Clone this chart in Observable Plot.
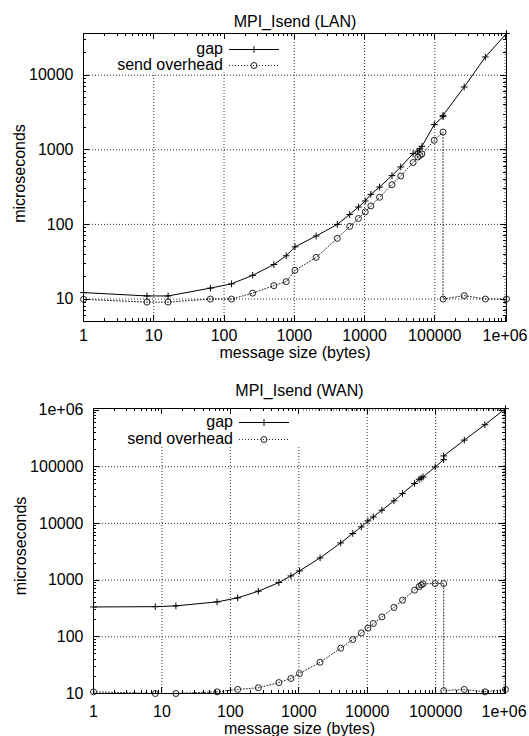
<!DOCTYPE html>
<html><head><meta charset="utf-8">
<script src="https://cdn.jsdelivr.net/npm/d3@7"></script>
<script src="https://cdn.jsdelivr.net/npm/@observablehq/plot@0.6"></script>
<style>
html,body{margin:0;padding:0;background:#fff;}
#chart{width:529px;}
#chart svg{display:block;}
</style></head><body><div id="chart"></div>
<script>
// message sizes (bytes), shared by both panels
const sizes = [1, 8, 16, 64, 128, 256, 512, 768, 1024, 2048, 4096, 6144, 8192, 10240, 12288, 16384, 24576, 32768, 49152, 57344, 61440, 65536, 98304, 131072, 131072, 262144, 524288, 1048576];
// LAN panel (microseconds)
const lanGap = [12.2, 11, 11, 14, 16, 20.8, 29, 38, 50, 70, 100, 136, 171, 206, 253, 317, 451, 589, 889, 960, 1030, 1110, 2180, 2780, 2900, 6950, 17540, 36200];
const lanOverhead = [9.9, 9.1, 9.1, 10, 10, 12, 15.1, 17.1, 24.3, 36.2, 65, 94, 120, 147, 177, 231, 341, 446, 675, 800, 840, 880, 1340, 1730, 10, 11.1, 10, 10];
// WAN panel (microseconds)
const wanGap = [336, 340, 351, 413, 486, 637, 906, 1185, 1452, 2466, 4530, 6640, 8680, 11070, 13020, 17100, 25000, 33700, 50600, 60000, 63000, 66000, 99000, 133000, 155000, 295000, 550000, 1060000];
const wanOverhead = [10.7, 10, 10, 10.7, 11.8, 12.6, 15.6, 18.4, 22.5, 35.6, 63, 89.6, 117, 142, 172, 224, 329, 442, 664, 770, 820, 860, 870, 870, 11.2, 11.8, 10.7, 11.8];

const xTicks = [1, 10, 100, 1000, 10000, 100000, 1000000];
const lanYTicks = [10, 100, 1000, 10000];
const wanYTicks = [10, 100, 1000, 10000, 100000, 1000000];
const titles = ["MPI_Isend (LAN)", "MPI_Isend (WAN)"];
const xLabel = "message size (bytes)";
const yLabel = "microseconds";
const seriesNames = ["gap", "send overhead"];

const fmt = d => d >= 1e6 ? "1e+06" : String(d);
const FONT = "'Liberation Sans', Arial, Helvetica, sans-serif";
const W = 529;
const PLUS_R = 2.3, CIRCLE_R = 3;

function panel(cfg) {
  const rows = sizes.map((s, i) => ({size: s, gap: cfg.gap[i], overhead: cfg.overhead[i]}));
  const plot = Plot.plot({
    width: W, height: cfg.height,
    marginTop: cfg.mt, marginBottom: cfg.mb, marginLeft: cfg.ml, marginRight: cfg.mr,
    style: {fontFamily: FONT, fontSize: "16px", background: "#fff", color: "#000", overflow: "visible"},
    x: {type: "log", domain: cfg.xDomain, ticks: xTicks, tickFormat: fmt, tickSize: 0, tickPadding: cfg.xPad, label: null},
    y: {type: "log", domain: cfg.yDomain, ticks: cfg.yTicks, tickFormat: fmt, tickSize: 0, tickPadding: 10, label: null},
    marks: [
      Plot.ruleX(xTicks.slice(1), {stroke: "#000", strokeOpacity: 0.8, strokeDasharray: "1,2", strokeWidth: 1}),
      Plot.ruleY(cfg.yTicks, {stroke: "#000", strokeOpacity: 0.8, strokeDasharray: "1,2", strokeWidth: 1}),
      Plot.line(rows, {x: "size", y: "overhead", stroke: "#000", strokeOpacity: 0.85, strokeDasharray: "1,2", strokeWidth: 1}),
      Plot.dot(rows, {x: "size", y: "overhead", symbol: "circle", r: CIRCLE_R, stroke: "#222", fill: "none", strokeWidth: 1}),
      Plot.line(rows, {x: "size", y: "gap", stroke: "#000", strokeWidth: 1}),
      Plot.dot(rows, {x: "size", y: "gap", symbol: "plus", r: PLUS_R, stroke: "#000", strokeWidth: 1}),
      Plot.frame({stroke: "#000"}),
      Plot.text([cfg.title], {frameAnchor: "top", lineAnchor: "middle", textAnchor: "middle", dy: cfg.titleDy, text: d => d}),
      Plot.text([xLabel], {frameAnchor: "bottom", lineAnchor: "middle", textAnchor: "middle", dy: cfg.xLabelDy, text: d => d}),
      Plot.text([yLabel], {frameAnchor: "left", lineAnchor: "middle", textAnchor: "middle", rotate: -90, dx: cfg.yLabelDx, dy: cfg.yLabelDy, text: d => d})
    ]
  });

  const svg = d3.select(plot.tagName.toLowerCase() === "svg" ? plot : plot.querySelector("svg"));
  const sx = plot.scale("x"), sy = plot.scale("y");
  const L = cfg.ml, T = cfg.mt, R = W - cfg.mr, B = cfg.height - cfg.mb;

  // legend (opaque key box hides the grid behind it)
  const g = svg.append("g").attr("font-family", FONT).attr("font-size", 16);
  g.append("rect").attr("x", L + 1).attr("y", T + 1)
    .attr("width", 207).attr("height", cfg.legRows[1] + 8 - 1).attr("fill", "#fff");
  seriesNames.forEach((name, i) => {
    const y = T + cfg.legRows[i];
    const yc = Math.round(y) + 0.5;
    g.append("text").attr("x", L + 140).attr("y", y).attr("dy", "0.32em")
      .attr("text-anchor", "end").attr("fill", "#000").text(name);
    const ln = g.append("line").attr("x1", L + 146).attr("x2", L + 196)
      .attr("y1", yc).attr("y2", yc).attr("stroke", "#000");
    const m = L + 171;
    if (i === 0) {
      g.append("path").attr("transform", `translate(${m},${yc})`)
        .attr("d", d3.symbol(d3.symbolPlus, Math.PI * PLUS_R * PLUS_R)()).attr("fill", "none").attr("stroke", "#000");
    } else {
      ln.attr("stroke-dasharray", "1,2").attr("stroke-opacity", 0.85);
      g.append("circle").attr("cx", m).attr("cy", yc).attr("r", CIRCLE_R)
        .attr("fill", "none").attr("stroke", "#222");
    }
  });

  // inward major and minor tics on all four borders
  const tg = svg.append("g").attr("stroke", "#000").attr("fill", "none").attr("stroke-width", 1);
  const minors = (dom) => {
    const out = [];
    const lo = Math.floor(Math.log10(dom[0])), hi = Math.ceil(Math.log10(dom[1]));
    for (let d = lo; d <= hi; d++) for (let k = 2; k <= 9; k++) {
      const v = k * Math.pow(10, d);
      if (v > dom[0] && v < dom[1]) out.push(v);
    }
    return out;
  };
  const xt = (v, len) => {
    const p = Math.round(sx.apply(v)) + 0.5;
    if (p < L + 1 || p > R - 0.5) return;
    tg.append("line").attr("x1", p).attr("x2", p).attr("y1", B).attr("y2", B - len);
    tg.append("line").attr("x1", p).attr("x2", p).attr("y1", T).attr("y2", T + len);
  };
  const yt = (v, len) => {
    const p = Math.round(sy.apply(v)) + 0.5;
    if (p < T + 1 || p > B - 0.5) return;
    tg.append("line").attr("y1", p).attr("y2", p).attr("x1", L).attr("x2", L + len);
    tg.append("line").attr("y1", p).attr("y2", p).attr("x1", R).attr("x2", R - len);
  };
  xTicks.forEach(v => xt(v, 6));
  minors(cfg.xDomain).forEach(v => xt(v, 3));
  cfg.yTicks.forEach(v => yt(v, 6));
  minors(cfg.yDomain).forEach(v => yt(v, 3));
  return plot;
}

const chart = document.getElementById("chart");
chart.appendChild(panel({
  title: titles[0], gap: lanGap, overhead: lanOverhead, yTicks: lanYTicks,
  height: 360, mt: 33, mb: 39, ml: 83, mr: 23,
  xDomain: [1, 1048576], yDomain: [5, 36200], xPad: 8,
  titleDy: -12, xLabelDy: 31, yLabelDx: -64, yLabelDy: -4, legRows: [15.5, 31.5]
}));
chart.appendChild(panel({
  title: titles[1], gap: wanGap, overhead: wanOverhead, yTicks: wanYTicks,
  height: 376, mt: 48, mb: 43, ml: 93, mr: 24,
  xDomain: [1, 1048576], yDomain: [10, 1063000], xPad: 12,
  titleDy: -18, xLabelDy: 35, yLabelDx: -73, yLabelDy: -5, legRows: [13.5, 30.7]
}));
</script></body></html>
